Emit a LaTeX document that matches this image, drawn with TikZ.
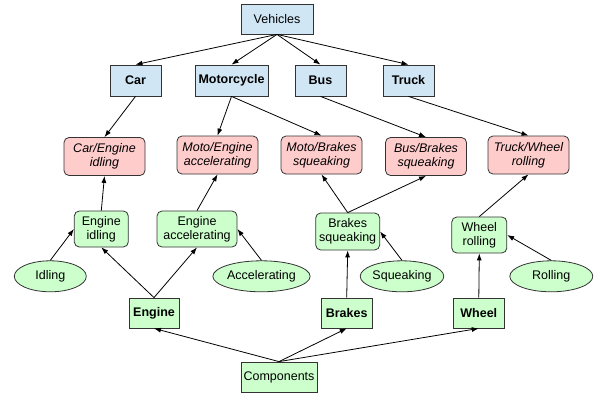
\documentclass[tikz,border=0pt]{standalone}
\usepackage{fontspec}
\setmainfont{Liberation Sans}
\usetikzlibrary{arrows.meta,shapes.geometric}
\definecolor{vblue}{RGB}{208,230,245}
\definecolor{cpink}{RGB}{255,204,204}
\definecolor{cgreen}{RGB}{204,255,204}
\definecolor{edgegray}{RGB}{51,51,51}
\tikzset{
  box/.style={draw=edgegray,line width=0.8pt,inner sep=0pt,align=center,
    font=\fontsize{12.5}{14}\selectfont},
  vehicle/.style={box,fill=vblue,minimum height=31pt,font=\fontsize{12.5}{14}\selectfont\bfseries},
  combo/.style={box,fill=cpink,rounded corners=5pt,minimum width=81pt,minimum height=38pt,
    font=\fontsize{12.5}{14}\selectfont\itshape},
  behave/.style={box,fill=cgreen,rounded corners=5pt,minimum height=36pt},
  trait/.style={box,fill=cgreen,ellipse,minimum height=31pt},
  part/.style={box,fill=cgreen,minimum height=30pt,font=\fontsize{12.5}{14}\selectfont\bfseries},
  link/.style={draw=black,line width=0.8pt,-{Latex[length=7pt,width=5pt]}}
}
\begin{document}
\begin{tikzpicture}[x=1pt,y=-1pt]
\useasboundingbox (0,0) rectangle (595,394);
% vehicles
\node[box,fill=vblue,minimum width=72pt,minimum height=30pt] (vehicles) at (277,19) {Vehicles};
\node[vehicle,minimum width=51pt] (car) at (135.5,80.5) {Car};
\node[vehicle,minimum width=73pt] (moto) at (231.5,80.5) {Motorcycle};
\node[vehicle,minimum width=51pt] (bus) at (320.5,80.5) {Bus};
\node[vehicle,minimum width=51pt] (truck) at (408.5,80.5) {Truck};
% combinations
\node[combo] (carEngine) at (104.5,156.5) {Car/Engine\\idling};
\node[combo] (motoEngine) at (217.5,155) {Moto/Engine\\accelerating};
\node[combo] (motoBrakes) at (321.5,155) {Moto/Brakes\\squeaking};
\node[combo] (busBrakes) at (426,156.5) {Bus/Brakes\\squeaking};
\node[combo] (truckWheel) at (528.5,155) {Truck/Wheel\\rolling};
% behaviours
\node[behave,minimum width=54pt] (engIdle) at (101.3,229) {Engine\\idling};
\node[behave,minimum width=80pt] (engAccel) at (197,229) {Engine\\accelerating};
\node[behave,minimum width=64pt,minimum height=37pt] (brkSqueak) at (347.7,231.5) {Brakes\\squeaking};
\node[behave,minimum width=55pt] (whlRoll) at (479.3,235) {Wheel\\rolling};
% traits
\node[trait,minimum width=72pt] (idling) at (50.3,276.3) {Idling};
\node[trait,minimum width=77pt] (accel) at (261.5,276.3) {Accelerating};
\node[trait,minimum width=81pt] (squeak) at (402,276.3) {Squeaking};
\node[trait,minimum width=83pt] (rolling) at (551.3,276.3) {Rolling};
% parts
\node[part,minimum width=50pt] (engine) at (154,313) {Engine};
\node[part,minimum width=51pt] (brakes) at (346.7,313) {Brakes};
\node[part,minimum width=51pt] (wheel) at (478.8,313) {Wheel};
\node[box,fill=cgreen,minimum width=76pt,minimum height=30pt] (components) at (279,377) {Components};
% edges
\foreach \t in {car,moto,bus,truck} \draw[link] (vehicles.south) -- (\t.north);
\draw[link] (car.south) -- (carEngine.north);
\draw[link] (moto.south) -- (motoEngine.north);
\draw[link] (moto.south) -- (motoBrakes.north);
\draw[link] (bus.south) -- (busBrakes.north);
\draw[link] (truck.south) -- (truckWheel.north);
\draw[link] (engIdle.north) -- (carEngine.south);
\draw[link] (engAccel.north) -- (motoEngine.south);
\draw[link] (brkSqueak.north) -- (motoBrakes.south);
\draw[link] (brkSqueak.north) -- (busBrakes.south);
\draw[link] (whlRoll.north) -- (truckWheel.south);
\draw[link] (idling.north) -- (engIdle.west);
\draw[link] (accel.north) -- (engAccel.east);
\draw[link] (squeak.north) -- (brkSqueak.east);
\draw[link] (rolling.north) -- (whlRoll.east);
\draw[link] (engine.north) -- (engIdle.south);
\draw[link] (engine.north) -- (engAccel.south);
\draw[link] (brakes.north) -- (brkSqueak.south);
\draw[link] (wheel.north) -- (whlRoll.south);
\foreach \t in {engine,brakes,wheel} \draw[link] (components.north) -- (\t.south);
\end{tikzpicture}
\end{document}
